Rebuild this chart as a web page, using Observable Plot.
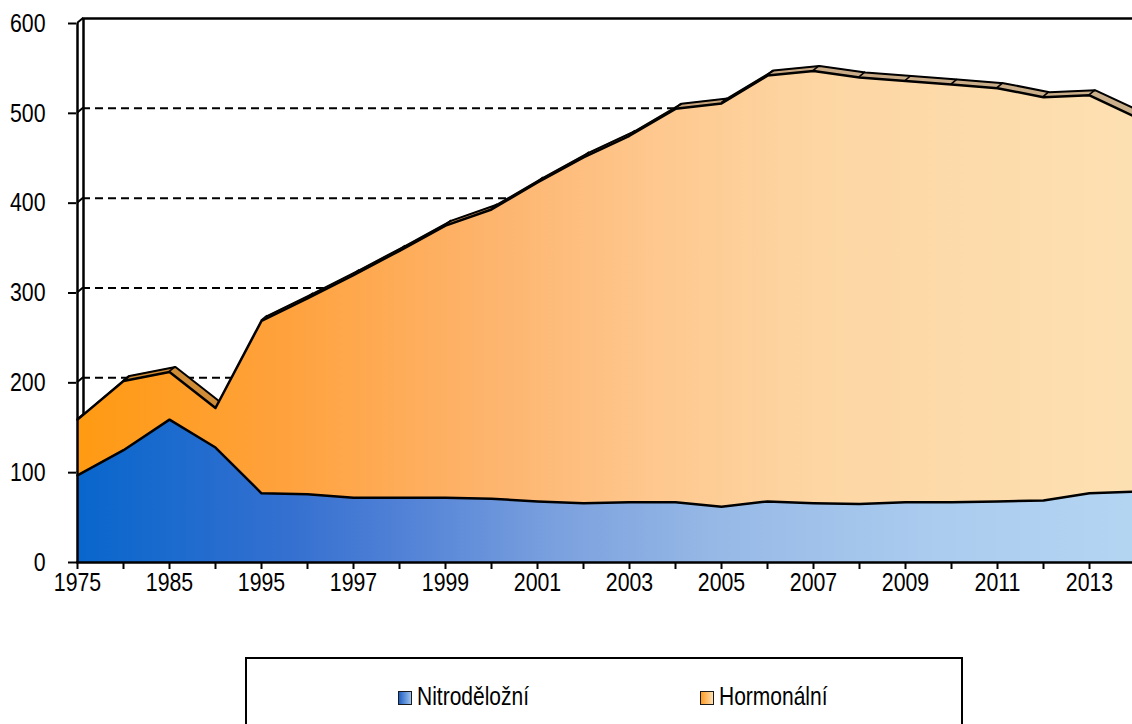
<!DOCTYPE html>
<html><head><meta charset="utf-8">
<script src="https://cdn.jsdelivr.net/npm/d3@7"></script>
<script src="https://cdn.jsdelivr.net/npm/@observablehq/plot@0.6"></script>
<style>
body{margin:0;background:#fff;overflow:hidden;width:1132px;height:724px;position:relative;font-family:"Liberation Sans",Arial,sans-serif;}
#chart{position:absolute;left:0;top:0;}
#legend{position:absolute;left:245px;top:657px;width:718px;height:100px;border:2px solid #000;box-sizing:border-box;}
.item{position:absolute;top:22px;height:30px;display:flex;align-items:center;font-size:25px;color:#000;white-space:nowrap;}
.sw{width:12px;height:12px;border:1.5px solid #1a1a1a;margin-right:5px;margin-top:3px;}
.item span{display:inline-block;transform:scaleX(0.84);transform-origin:left center;}
</style></head><body>
<div id="chart"></div>
<div id="legend"></div>
<script>
// ---- data ----
const years = ["1975","1980","1985","1990","1995","1996","1997","1998","1999","2000","2001","2002","2003","2004","2005","2006","2007","2008","2009","2010","2011","2012","2013","2014"];
const nitro = [97,125,159,128,77,76,72,72,72,71,68,66,67,67,62,68,66,65,67,67,68,69,77,79];
const hormon = [62,77,53,44,192,218,248,275,303,322,355,385,408,438,449,474,481,475,469,465,460,449,443,417];
const yTicks = [0,100,200,300,400,500,600];
const gridValues = [100,200,300,400,500];
const xLabelYears = ["1975","1985","1995","1997","1999","2001","2003","2005","2007","2009","2011","2013"];
const seriesNames = ["Nitroděložní","Hormonální"];

const rows = years.map((year, i) => ({year, nitro: nitro[i], total: nitro[i] + hormon[i]}));
const labelSet = new Set(xLabelYears);
const DX = 6, DY = -5; // 3D depth offset in pixels
const NARROW = 0.82;   // horizontal squeeze to imitate a narrow typeface

const gradients = () => {
  const defs = d3.create("svg:defs");
  const mk = (id, stops) => {
    const g = defs.append("linearGradient").attr("id", id).attr("x1", "0").attr("x2", "1").attr("y1", "0").attr("y2", "0");
    for (const [o, c] of stops) g.append("stop").attr("offset", o).attr("stop-color", c);
  };
  mk("gBlue", [[0, "#0866cc"], [0.2, "#3470d0"], [0.3, "#4f80d6"], [0.45, "#7aa0de"], [0.6, "#96b8e6"], [0.8, "#aacbee"], [1, "#b4d5f2"]]);
  mk("gOrange", [[0, "#ff9a12"], [0.2, "#ffa23e"], [0.4, "#fdb56f"], [0.55, "#fec88f"], [0.7, "#fdd6a3"], [1, "#fde0b2"]]);
  mk("gFace", [[0, "#d0882c"], [0.2, "#cf9040"], [0.45, "#c99c70"], [0.7, "#c9aa86"], [1, "#cbb08c"]]);
  return defs.node();
};

const tickConnectors = (index, {x, y}) => {
  const g = d3.create("svg:g").attr("stroke", "#000").attr("stroke-width", 2);
  const x0 = x(years[0]);
  for (const v of yTicks) g.append("line").attr("x1", x0).attr("y1", y(v)).attr("x2", x0 + DX).attr("y2", y(v) + DY);
  return g.node();
};
const faceConnectors = (index, {x, y}) => {
  const g = d3.create("svg:g").attr("stroke", "#000").attr("stroke-width", 1.6);
  for (const r of rows) g.append("line").attr("x1", x(r.year)).attr("y1", y(r.total)).attr("x2", x(r.year) + DX).attr("y2", y(r.total) + DY);
  return g.node();
};

const chart = Plot.plot({
  width: 1132,
  height: 640,
  marginTop: 23,
  marginBottom: 78,
  marginLeft: 76,
  marginRight: 0,
  style: {fontFamily: '"Liberation Sans",Arial,sans-serif', fontSize: "25px", color: "#000", background: "transparent", overflow: "hidden"},
  x: {type: "point", domain: years, range: [76, 1136], padding: 0},
  y: {domain: [0, 600]},
  marks: [
    gradients,
    Plot.ruleY(gridValues, {stroke: "#000", strokeWidth: 2, strokeDasharray: "8,5", dx: DX, dy: DY}),
    Plot.ruleY([600], {stroke: "#000", strokeWidth: 2.5, dx: DX, dy: DY}),
    Plot.ruleX([years[0]], {y1: 0, y2: 600, stroke: "#000", strokeWidth: 2.5, dx: DX, dy: DY}),
    tickConnectors,
    Plot.areaY(rows, {x: "year", y1: 0, y2: "total", fill: "url(#gFace)", dx: DX, dy: DY}),
    Plot.lineY(rows, {x: "year", y: "total", stroke: "#000", strokeWidth: 2, dx: DX, dy: DY}),
    faceConnectors,
    Plot.areaY(rows, {x: "year", y1: "nitro", y2: "total", fill: "url(#gOrange)"}),
    Plot.areaY(rows, {x: "year", y1: 0, y2: "nitro", fill: "url(#gBlue)"}),
    Plot.lineY(rows, {x: "year", y: "nitro", stroke: "#000", strokeWidth: 2.5}),
    Plot.lineY(rows, {x: "year", y: "total", stroke: "#000", strokeWidth: 2.5}),
    Plot.ruleX([years[0]], {y1: 0, y2: 600, stroke: "#000", strokeWidth: 2.5}),
    Plot.ruleY([0], {stroke: "#000", strokeWidth: 2.5}),
    Plot.axisX({ticks: years, tickSize: 7, tickPadding: 3, strokeWidth: 2, fontSize: 26, tickFormat: d => labelSet.has(d) ? d : "", label: null}),
    Plot.axisY({ticks: yTicks, tickSize: 8, tickPadding: 23, strokeWidth: 2, fontSize: 26, label: null})
  ]
});
document.getElementById("chart").appendChild(chart);

// squeeze axis tick labels horizontally around their anchor
chart.querySelectorAll('g[aria-label$="tick label"] text').forEach(t => {
  const tr = t.getAttribute("transform");
  if (tr) {
    t.setAttribute("transform", tr + ` scale(${NARROW},1)`);
  } else {
    const x = +(t.getAttribute("x") || 0), y = +(t.getAttribute("y") || 0);
    t.removeAttribute("x"); t.removeAttribute("y");
    t.setAttribute("transform", `translate(${x},${y}) scale(${NARROW},1)`);
  }
});

// legend
const legend = document.getElementById("legend");
const swatches = ["linear-gradient(to right,#1f5fc4,#9dc2ee)", "linear-gradient(to right,#ff9a20,#fde0b2)"];
const lefts = [151, 453];
seriesNames.forEach((name, i) => {
  const it = document.createElement("div");
  it.className = "item";
  it.style.left = lefts[i] + "px";
  const sw = document.createElement("div");
  sw.className = "sw";
  sw.style.background = swatches[i];
  const t = document.createElement("span");
  t.textContent = name;
  it.appendChild(sw); it.appendChild(t);
  legend.appendChild(it);
});
</script>
</body></html>
